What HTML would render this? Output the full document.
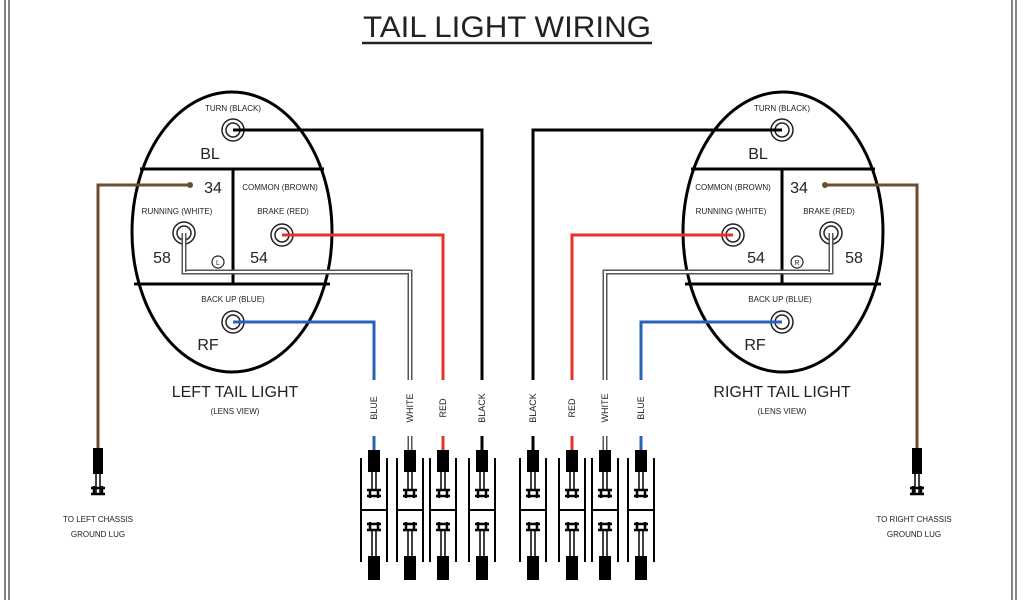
<!DOCTYPE html>
<html><head><meta charset="utf-8"><style>
html,body{margin:0;padding:0;background:#fff}
svg{display:block}
text{font-family:"Liberation Sans",sans-serif;fill:#222}
.s{font-size:8px}
.m{font-size:16px}
.w{font-size:9px}
</style></head><body>
<svg width="1024" height="600" viewBox="0 0 1024 600" xmlns="http://www.w3.org/2000/svg">
<defs>
<g id="sock"><circle r="11" fill="#fff" stroke="#222" stroke-width="1.5"/><circle r="7" fill="none" stroke="#222" stroke-width="1.5"/></g>
<g id="conn">
  <rect x="-6" y="0" width="12" height="22" fill="#000"/>
  <line x1="-2" y1="22" x2="-2" y2="40" stroke="#000" stroke-width="1.5"/>
  <line x1="2" y1="22" x2="2" y2="40" stroke="#000" stroke-width="1.5"/>
  <path d="M-7 40 h14 M-7 46 h14 M-4 40 v8 M4 40 v8" stroke="#000" stroke-width="2.5" fill="none"/>
  <line x1="-13" y1="8" x2="-13" y2="112" stroke="#000" stroke-width="2"/>
  <line x1="13" y1="8" x2="13" y2="112" stroke="#000" stroke-width="2"/>
  <line x1="-13" y1="60" x2="13" y2="60" stroke="#000" stroke-width="2"/>
  <path d="M-7 74 h14 M-7 80 h14 M-4 72 v8 M4 72 v8" stroke="#000" stroke-width="2.5" fill="none"/>
  <line x1="-2" y1="80" x2="-2" y2="106" stroke="#000" stroke-width="1.5"/>
  <line x1="2" y1="80" x2="2" y2="106" stroke="#000" stroke-width="1.5"/>
  <rect x="-6" y="106" width="12" height="24" fill="#000"/>
</g>
<g id="gnd">
  <rect x="-5" y="0" width="10" height="26" fill="#000"/>
  <line x1="-2" y1="26" x2="-2" y2="46" stroke="#000" stroke-width="1.5"/>
  <line x1="2" y1="26" x2="2" y2="46" stroke="#000" stroke-width="1.5"/>
  <path d="M-7 40 h14 M-7 46 h14 M-4 38 v8 M4 38 v8" stroke="#000" stroke-width="2.5" fill="none"/>
</g>
<g id="geo">
  <!-- ellipse & dividers -->
  <ellipse cx="232" cy="232" rx="100" ry="140" fill="none" stroke="#000" stroke-width="3"/>
  <line x1="140" y1="169" x2="324" y2="169" stroke="#000" stroke-width="3"/>
  <line x1="134" y1="284" x2="330" y2="284" stroke="#000" stroke-width="3"/>
  <line x1="233" y1="169" x2="233" y2="284" stroke="#000" stroke-width="3"/>
  <!-- black wire -->
  <path d="M233 130 H482 V380" fill="none" stroke="#000" stroke-width="3"/>
  <line x1="482" y1="436" x2="482" y2="452" stroke="#000" stroke-width="3"/>
  <!-- red -->
  <path d="M282 235 H443 V380" fill="none" stroke="#e8312a" stroke-width="3"/>
  <line x1="443" y1="436" x2="443" y2="452" stroke="#e8312a" stroke-width="3"/>
  <!-- white (double) -->
  <path d="M184 233 V272 H410 V380" fill="none" stroke="#555" stroke-width="5"/>
  <path d="M184 233 V272 H410 V380" fill="none" stroke="#fff" stroke-width="2"/>
  <line x1="410" y1="436" x2="410" y2="452" stroke="#555" stroke-width="5"/>
  <line x1="410" y1="436" x2="410" y2="452" stroke="#fff" stroke-width="2"/>
  <!-- blue -->
  <path d="M233 322 H374 V380" fill="none" stroke="#2a62b8" stroke-width="3"/>
  <line x1="374" y1="436" x2="374" y2="452" stroke="#2a62b8" stroke-width="3"/>
  <!-- brown -->
  <path d="M190 185 H98 V450" fill="none" stroke="#6b4e2e" stroke-width="3"/>
  <circle cx="190" cy="185" r="3" fill="#6b4e2e"/>
  <!-- sockets -->
  <use href="#sock" x="233" y="130"/>
  <use href="#sock" x="184" y="233"/>
  <use href="#sock" x="282" y="235"/>
  <use href="#sock" x="233" y="322"/>
  <line x1="233" y1="130" x2="250" y2="130" stroke="#000" stroke-width="3"/>
  <line x1="282" y1="235" x2="296" y2="235" stroke="#e8312a" stroke-width="3"/>
  <line x1="233" y1="322" x2="248" y2="322" stroke="#2a62b8" stroke-width="3"/>
  <path d="M184 233 V272" fill="none" stroke="#555" stroke-width="5"/>
  <path d="M184 233 V273" fill="none" stroke="#fff" stroke-width="2"/>
  <circle cx="218" cy="262" r="6" fill="#fff" stroke="#222" stroke-width="1.2"/>
  <!-- connectors -->
  <use href="#conn" x="374" y="450"/>
  <use href="#conn" x="410" y="450"/>
  <use href="#conn" x="443" y="450"/>
  <use href="#conn" x="482" y="450"/>
  <use href="#gnd" x="98" y="448"/>
</g>
</defs>
<line x1="5" y1="0" x2="5" y2="600" stroke="#333" stroke-width="1.2"/>
<line x1="9" y1="0" x2="9" y2="600" stroke="#333" stroke-width="1.2"/>
<line x1="1012" y1="0" x2="1012" y2="600" stroke="#333" stroke-width="1.2"/>
<line x1="1016" y1="0" x2="1016" y2="600" stroke="#333" stroke-width="1.2"/>

<text x="507" y="37" font-size="30" text-anchor="middle" textLength="288" lengthAdjust="spacingAndGlyphs">TAIL LIGHT WIRING</text>
<line x1="362" y1="43" x2="652" y2="43" stroke="#222" stroke-width="2.5"/>

<use href="#geo"/>
<use href="#geo" transform="translate(1015,0) scale(-1,1)"/>

<!-- left texts -->
<text class="s" x="233" y="111" text-anchor="middle">TURN (BLACK)</text>
<text class="m" x="210" y="159" text-anchor="middle">BL</text>
<text class="m" x="213" y="193" text-anchor="middle">34</text>
<text class="s" x="280" y="190" text-anchor="middle">COMMON (BROWN)</text>
<text class="s" x="177" y="214" text-anchor="middle">RUNNING (WHITE)</text>
<text class="s" x="283" y="214" text-anchor="middle">BRAKE (RED)</text>
<text class="m" x="162" y="263" text-anchor="middle">58</text>
<text class="m" x="259" y="263" text-anchor="middle">54</text>
<text x="218" y="265" font-size="7" text-anchor="middle">L</text>
<text class="s" x="233" y="302" text-anchor="middle">BACK UP (BLUE)</text>
<text class="m" x="208" y="350" text-anchor="middle">RF</text>
<text x="235" y="397" font-size="16" text-anchor="middle">LEFT TAIL LIGHT</text>
<text class="s" x="235" y="414" text-anchor="middle">(LENS VIEW)</text>
<text class="s" x="98" y="522" text-anchor="middle">TO LEFT CHASSIS</text>
<text class="s" x="98" y="537" text-anchor="middle">GROUND LUG</text>

<!-- right texts -->
<text class="s" x="782" y="111" text-anchor="middle">TURN (BLACK)</text>
<text class="m" x="758" y="159" text-anchor="middle">BL</text>
<text class="m" x="799" y="193" text-anchor="middle">34</text>
<text class="s" x="733" y="190" text-anchor="middle">COMMON (BROWN)</text>
<text class="s" x="731" y="214" text-anchor="middle">RUNNING (WHITE)</text>
<text class="s" x="829" y="214" text-anchor="middle">BRAKE (RED)</text>
<text class="m" x="756" y="263" text-anchor="middle">54</text>
<text class="m" x="854" y="263" text-anchor="middle">58</text>
<text x="797" y="265" font-size="7" text-anchor="middle">R</text>
<text class="s" x="780" y="302" text-anchor="middle">BACK UP (BLUE)</text>
<text class="m" x="755" y="350" text-anchor="middle">RF</text>
<text x="782" y="397" font-size="16" text-anchor="middle">RIGHT TAIL LIGHT</text>
<text class="s" x="782" y="414" text-anchor="middle">(LENS VIEW)</text>
<text class="s" x="914" y="522" text-anchor="middle">TO RIGHT CHASSIS</text>
<text class="s" x="914" y="537" text-anchor="middle">GROUND LUG</text>

<!-- wire labels -->
<g class="w">
<text class="w" transform="translate(377,408) rotate(-90)" text-anchor="middle">BLUE</text>
<text class="w" transform="translate(413,408) rotate(-90)" text-anchor="middle">WHITE</text>
<text class="w" transform="translate(446,408) rotate(-90)" text-anchor="middle">RED</text>
<text class="w" transform="translate(485,408) rotate(-90)" text-anchor="middle">BLACK</text>
<text class="w" transform="translate(536,408) rotate(-90)" text-anchor="middle">BLACK</text>
<text class="w" transform="translate(575,408) rotate(-90)" text-anchor="middle">RED</text>
<text class="w" transform="translate(608,408) rotate(-90)" text-anchor="middle">WHITE</text>
<text class="w" transform="translate(644,408) rotate(-90)" text-anchor="middle">BLUE</text>
</g>
</svg>
</body></html>
